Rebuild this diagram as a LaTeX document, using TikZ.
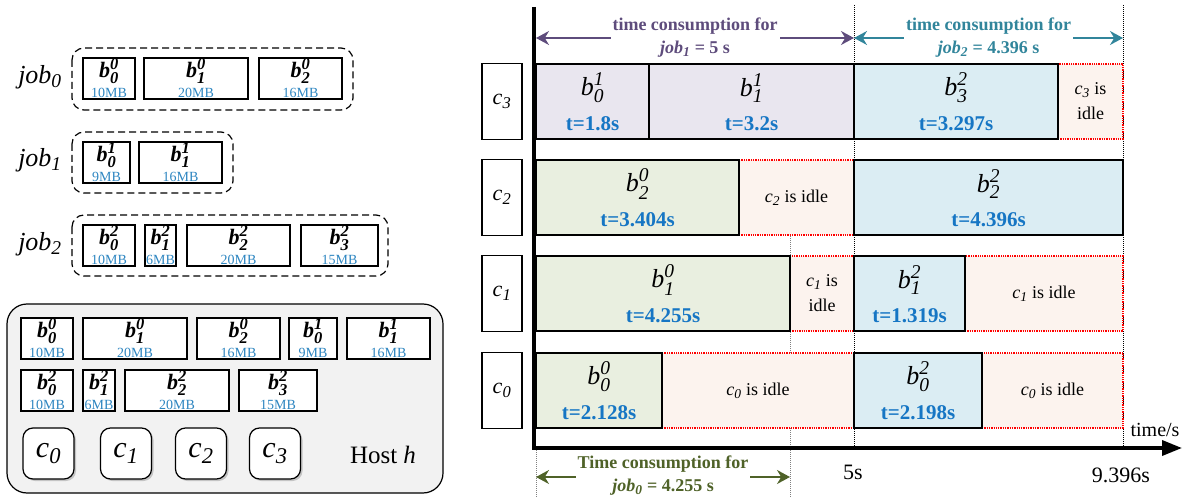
\documentclass[tikz,border=0pt]{standalone}
\usepackage{fontspec}
\setmainfont{Liberation Serif}
\usepackage{amsmath}
\usetikzlibrary{arrows.meta,shadows}
\renewcommand{\defaultscriptratio}{.75}

\definecolor{mbblue}{RGB}{46,134,193}
\definecolor{tblue}{RGB}{22,118,196}
\definecolor{jobpurple}{RGB}{94,76,124}
\definecolor{jobteal}{RGB}{49,133,155}
\definecolor{jobgreen}{RGB}{79,98,40}
\definecolor{fillpurple}{RGB}{233,230,239}
\definecolor{fillgreen}{RGB}{233,239,224}
\definecolor{fillblue}{RGB}{219,237,243}
\definecolor{fillidle}{RGB}{252,243,238}
\definecolor{hostgray}{RGB}{242,242,242}

% block names
\newcommand{\bbf}[2]{$\text{\bfseries\itshape b}^{\text{\bfseries\itshape #1}}_{\text{\bfseries\itshape #2}}$}
\newcommand{\bit}[2]{$\text{\itshape b}^{\text{\itshape #1}}_{\text{\itshape #2}}$}
\newcommand{\cit}[1]{$\text{\itshape c}_{\text{\itshape #1}}$}
\newcommand{\jobit}[1]{\textit{job}$_{\text{\itshape #1}}$}

\begin{document}
\begin{tikzpicture}[x=1pt,y=-1pt,
    blk/.style={draw, line width=1.2pt, inner sep=0pt, minimum height=41pt},
    blkname/.style={font=\fontsize{22}{26}\selectfont, inner sep=0pt},
    mbtext/.style={text=mbblue, font=\fontsize{14}{16}\selectfont, inner sep=0pt},
    jobbox/.style={line width=1.2pt, dash pattern=on 7pt off 4pt, rounded corners=12pt},
    joblabel/.style={font=\fontsize{26}{30}\selectfont},
    cpu/.style={draw, line width=1.2pt, fill=white, rounded corners=10pt,
        minimum width=51pt, minimum height=51pt, font=\fontsize{30}{34}\selectfont,
        drop shadow={shadow xshift=2pt, shadow yshift=-2pt, opacity=0.4}},
    cpulabel/.style={draw, line width=1.2pt, minimum width=40pt, minimum height=76pt,
        font=\fontsize{22}{26}\selectfont},
    bar/.style={draw, line width=1.6pt, inner sep=0pt, minimum height=75pt},
    idle/.style={draw=red, densely dotted, line width=1.3pt, fill=fillidle,
        inner sep=0pt, minimum height=75pt},
    idletext/.style={font=\fontsize{18}{25}\selectfont, align=center},
    bartext/.style={font=\fontsize{26}{30}\selectfont, inner sep=0pt},
    ttext/.style={text=tblue, font=\bfseries\fontsize{21}{24}\selectfont, inner sep=0pt},
    spantext/.style={font=\bfseries\fontsize{18}{23}\selectfont, align=center,
        fill=white, inner xsep=2pt, inner ysep=0pt},
    span/.style={line width=1.6pt, {Stealth[length=13pt,width=14pt]}-{Stealth[length=13pt,width=14pt]}},
    tickline/.style={densely dotted, line width=1pt},
    axislabel/.style={font=\fontsize{22}{26}\selectfont}
]
    \useasboundingbox (0,0) rectangle (1183,497);

    % jobs and their blocks
    \node[joblabel] (job0) at (40,77) {\jobit{0}};
    \node[joblabel] (job1) at (40,160) {\jobit{1}};
    \node[joblabel] (job2) at (40,244) {\jobit{2}};
    \draw[jobbox] (72,48) rectangle (353,110);
    \draw[jobbox] (72,132) rectangle (233,193);
    \draw[jobbox] (72,215) rectangle (388,276);
    \foreach \xa/\xb/\ya/\sup/\sub/\mb/\nm in {
        83/135/58/0/0/10MB/ja, 144/248/58/0/1/20MB/jb, 259/342/58/0/2/16MB/jc,
        83/130/142/1/0/9MB/jd, 139/222/142/1/1/16MB/je,
        83/135/225/2/0/10MB/jf, 145/176/225/2/1/6MB/jg, 187/290/225/2/2/20MB/jh,
        301/378/225/2/3/15MB/ji} {
        \node[blk, minimum width={(\xb-\xa)*1pt}] (\nm) at ({(\xa+\xb)/2},\ya+20.5) {};
        \node[blkname] (\nm-b) at ({(\xa+\xb)/2},\ya+13) {\bbf{\sup}{\sub}};
        \node[mbtext] (\nm-m) at ({(\xa+\xb)/2},\ya+35) {\mb};
    }

    % host h
    \draw[fill=hostgray, line width=1.2pt, rounded corners=20pt] (7,304) rectangle (443,493);
    \foreach \xa/\xb/\ya/\sup/\sub/\mb/\nm in {
        21/73/318/0/0/10MB/ha, 83/187/318/0/1/20MB/hb, 197/280/318/0/2/16MB/hc,
        289/337/318/1/0/9MB/hd, 347/430/318/1/1/16MB/he,
        21/73/370/2/0/10MB/hf, 83/115/370/2/1/6MB/hg, 125/229/370/2/2/20MB/hh,
        239/317/370/2/3/15MB/hi} {
        \node[blk, fill=white, minimum width={(\xb-\xa)*1pt}] (\nm) at ({(\xa+\xb)/2},\ya+20.5) {};
        \node[blkname] (\nm-b) at ({(\xa+\xb)/2},\ya+13) {\bbf{\sup}{\sub}};
        \node[mbtext] (\nm-m) at ({(\xa+\xb)/2},\ya+35) {\mb};
    }
    \foreach \i/\x in {0/48.5,1/126,2/201,3/275}
        \node[cpu] (cpu\i) at (\x,453.5) {\cit{\i}};
    \node[font=\fontsize{25}{30}\selectfont] (hostname) at (383,455) {Host \textit{h}};

    % time marks
    \coordinate (origin) at (534,448);
    \coordinate (ytop) at (534,7);
    \coordinate (xend) at (1182,448);
    \coordinate (t5top) at (854,5);
    \coordinate (t5bot) at (854,448);
    \coordinate (tendtop) at (1123,5);
    \coordinate (tendbot) at (1123,448);
    \coordinate (tjtop) at (790,236);
    \coordinate (tjbot) at (790,497);
    \coordinate (t0top) at (536,448);
    \coordinate (t0bot) at (536,497);
    \draw[tickline] (t5top) -- (t5bot);
    \draw[tickline] (tendtop) -- (tendbot);
    \draw[tickline, gray] (tjtop) -- (tjbot);
    \draw[tickline, gray] (t0top) -- (t0bot);

    % idle slots
    \foreach \xa/\xb/\ya/\txt/\nm in {
        1058/1123/64/{\cit{3} is\\idle}/i3a,
        739/854/160/{\cit{2} is idle}/i2a,
        790/854/256/{\cit{1} is\\idle}/i1a,
        965/1123/256/{\cit{1} is idle}/i1b,
        662/854/353/{\cit{0} is idle}/i0a,
        982/1123/353/{\cit{0} is idle}/i0b} {
        \node[idle, minimum width={(\xb-\xa)*1pt}] (\nm) at ({(\xa+\xb)/2},\ya+37.5) {};
        \node[idletext] (\nm-t) at (\nm) {\txt};
    }

    % busy slots
    \foreach \xa/\xb/\ya/\col/\sup/\sub/\t/\nm in {
        536/649/64/fillpurple/1/0/1.8/r3a, 649/854/64/fillpurple/1/1/3.2/r3b,
        854/1058/64/fillblue/2/3/3.297/r3c,
        536/739/160/fillgreen/0/2/3.404/r2a, 854/1123/160/fillblue/2/2/4.396/r2b,
        536/790/256/fillgreen/0/1/4.255/r1a, 854/965/256/fillblue/2/1/1.319/r1b,
        536/662/353/fillgreen/0/0/2.128/r0a, 854/982/353/fillblue/2/0/2.198/r0b} {
        \node[bar, fill=\col, minimum width={(\xb-\xa)*1pt}] (\nm) at ({(\xa+\xb)/2},\ya+37.5) {};
        \node[bartext] (\nm-b) at ({(\xa+\xb)/2},\ya+24) {\bit{\sup}{\sub}};
        \node[ttext] (\nm-t) at ({(\xa+\xb)/2},\ya+60) {t=\t s};
    }

    % cores
    \foreach \i/\y in {3/64,2/160,1/256,0/353}
        \node[cpulabel] (core\i) at (502,\y+37.5) {\cit{\i}};

    % axes
    \draw[line width=3.5pt, -{Triangle[length=20pt,width=15pt]}] (ytop) -- (origin) -- (xend);
    \node[axislabel] (lbl5) at (853,472) {5s};
    \node[axislabel] (lblend) at (1121,475) {9.396s};
    \node[axislabel, font=\fontsize{20}{24}\selectfont] (lbltime) at (1155,430) {time/s};

    % time consumption
    \coordinate (sp1a) at (536,38);
    \coordinate (sp1b) at (854,38);
    \coordinate (sp2a) at (854,38);
    \coordinate (sp2b) at (1123,38);
    \coordinate (sp0a) at (536,477);
    \coordinate (sp0b) at (790,477);
    \draw[span, jobpurple] (sp1a) -- (sp1b)
        node[midway, spantext, text=jobpurple] (span1) {time consumption for\\\jobit{1} = 5 s};
    \draw[span, jobteal] (sp2a) -- (sp2b)
        node[midway, spantext, text=jobteal] (span2) {time consumption for\\\jobit{2} = 4.396 s};
    \draw[span, jobgreen] (sp0a) -- (sp0b)
        node[midway, spantext, text=jobgreen, yshift=1pt] (span0) {Time consumption for\\\jobit{0} = 4.255 s};
\end{tikzpicture}
\end{document}
